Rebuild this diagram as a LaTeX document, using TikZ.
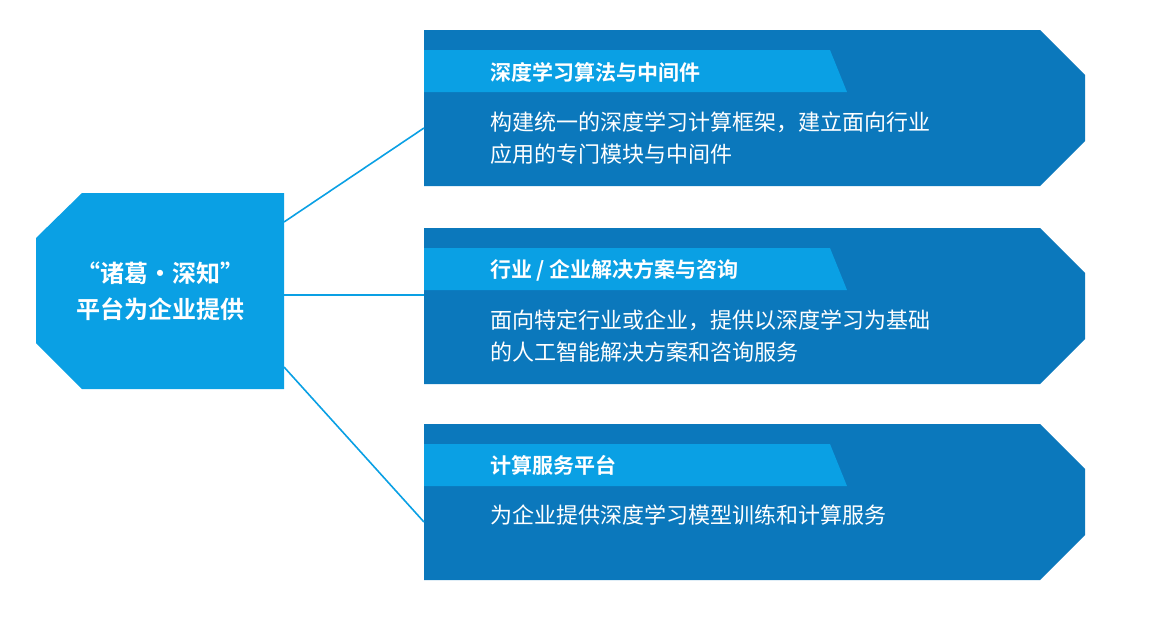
\documentclass[tikz,border=0pt]{standalone}
\usepackage{fontspec}
\newfontfamily\cjk{Noto Sans CJK SC}
\newfontfamily\cjkb{Noto Sans CJK SC Bold}
\definecolor{dk}{HTML}{0B78BC}
\definecolor{lt}{HTML}{0AA0E4}
\begin{document}
\begin{tikzpicture}[x=1pt,y=-1pt,
  hd/.style={anchor=west,text=white,font=\cjkb\fontsize{21}{21}\selectfont,inner sep=0},
  bd/.style={anchor=west,text=white,font=\cjk\fontsize{22}{32}\selectfont,inner sep=0,align=left},
  ln/.style={draw=lt,line width=1.6pt}]
\useasboundingbox (0,0) rectangle (1168,622);
\fill[lt] (82,193) -- (284,193) -- (284,389) -- (82,389) -- (36,343) -- (36,238) -- cycle;
\node[text=white,font=\cjkb\fontsize{24}{36}\selectfont,align=center] (L) at (160,291) {“诸葛·深知”\\平台为企业提供};
\coordinate (L1) at (284,222); \coordinate (L2) at (284,295); \coordinate (L3) at (284,367);
\foreach \t/\n in {30/1,228/2,424/3}{
  \fill[dk] (424,\t) -- (1040,\t) -- (1085,\t+45) -- (1085,\t+111) -- (1040,\t+156) -- (424,\t+156) -- cycle;
  \fill[lt] (424,\t+20) -- (830,\t+20) -- (847,\t+62) -- (424,\t+62) -- cycle;
  \coordinate (R\n) at (424,\t+98);
}
\coordinate (R2) at (424,295);
\node[hd] (h1) at (490,72) {深度学习算法与中间件};
\node[hd] (h2) at (490,270) {行业 / 企业解决方案与咨询};
\node[hd] (h3) at (490,465) {计算服务平台};
\node[bd] (b1) at (490,138) {构建统一的深度学习计算框架，建立面向行业\\应用的专门模块与中间件};
\node[bd] (b2) at (490,336) {面向特定行业或企业，提供以深度学习为基础\\的人工智能解决方案和咨询服务};
\node[bd] (b3) at (490,515) {为企业提供深度学习模型训练和计算服务};
\draw[ln] (L1) -- (R1);
\draw[ln] (L2) -- (R2);
\draw[ln] (L3) -- (R3);
\end{tikzpicture}
\end{document}
